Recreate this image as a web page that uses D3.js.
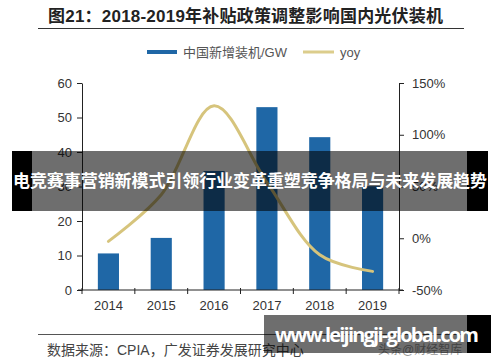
<!DOCTYPE html>
<html>
<head>
<meta charset="utf-8">
<script src="https://cdn.jsdelivr.net/npm/d3@7"></script>
<style>
body { margin: 0; background: #fff; }
svg { display: block; font-family: Arial, "Liberation Sans", "Noto Sans CJK SC", sans-serif; }
.axis path, .axis line { stroke: #222; }
.axis text { fill: #333; font-size: 13px; }
</style>
</head>
<body>
<div id="chart"></div>
<script>
// data
var years = ["2014", "2015", "2016", "2017", "2018", "2019"];
var installed = [10.6, 15.1, 34.5, 53.0, 44.3, 30.1];   // GW
var yoy = [-3, 42, 128, 54, -16, -32];                   // %
var leftTicks = [0, 10, 20, 30, 40, 50, 60];
var rightTicks = [-50, 0, 50, 100, 150];

var Chart = function() {

	var svg, plot, x, y, y2,
		width = 500, height = 362,
		margin = {left: 82, right: 101, top: 83, bottom: 72};

	// svg and scales
	var initialize = function() {
		svg = d3.select("#chart").append("svg")
		.attr("width", width)
		.attr("height", height);

		x = d3.scaleBand().domain(years)
		.range([margin.left, width - margin.right])
		.paddingInner(0.6).paddingOuter(0.3);
		y = d3.scaleLinear().domain([0, 60]).range([height - margin.bottom, margin.top]);
		y2 = d3.scaleLinear().domain([-50, 150]).range([height - margin.bottom, margin.top]);
	}

	// title, rule and legend
	var header = function() {
		svg.append("text")
		.attr("x", 48).attr("y", 22)
		.attr("font-size", "17px").attr("font-weight", "bold").attr("fill", "#222")
		.attr("textLength", 395)
		.text("图21：2018-2019年补贴政策调整影响国内光伏装机");
		svg.append("line")
		.attr("x1", 38).attr("x2", 464).attr("y1", 28.5).attr("y2", 28.5)
		.attr("stroke", "#333").attr("stroke-width", 1);

		var lg = svg.append("g").attr("font-size", "13px").attr("fill", "#555");
		lg.append("rect").attr("x", 147).attr("y", 50).attr("width", 30).attr("height", 4).attr("fill", "#1f67a6");
		lg.append("text").attr("x", 183).attr("y", 57).text("中国新增装机/GW");
		lg.append("rect").attr("x", 303).attr("y", 50.5).attr("width", 31).attr("height", 3).attr("fill", "#dccd8c");
		lg.append("text").attr("x", 340).attr("y", 57).text("yoy");
	}

	var render = function() {
		plot = svg.append("g");

		// bars
		plot.selectAll("rect.bar")
		.data(installed)
		.enter().append("rect")
		.attr("class", "bar")
		.attr("x", function(d, i) { return x(years[i]); })
		.attr("width", x.bandwidth())
		.attr("y", function(d) { return y(d); })
		.attr("height", function(d) { return y(0) - y(d); })
		.attr("fill", "#1f67a6");

		// yoy smooth line
		var line = d3.line()
		.x(function(d, i) { return x(years[i]) + x.bandwidth() / 2; })
		.y(function(d) { return y2(d); })
		.curve(d3.curveCatmullRom.alpha(0.5));
		plot.append("path")
		.datum(yoy)
		.attr("d", line)
		.attr("fill", "none")
		.attr("stroke", "#d6c47c")
		.attr("stroke-width", 3)
		.attr("stroke-linecap", "round");

		// axes
		svg.append("g")
		.attr("class", "axis")
		.attr("transform", "translate(" + margin.left + ",0)")
		.call(d3.axisLeft(y).tickValues(leftTicks).tickSize(5).tickSizeOuter(0).tickPadding(5));

		svg.append("g")
		.attr("class", "axis")
		.attr("transform", "translate(" + (width - margin.right) + ",0)")
		.call(d3.axisRight(y2).tickValues(rightTicks).tickSize(5).tickSizeOuter(0).tickPadding(8)
			.tickFormat(function(d) { return d + "%"; }));

		// x axis: ticks at category boundaries
		var xa = svg.append("g")
		.attr("class", "axis")
		.attr("transform", "translate(0," + y(0) + ")");
		xa.append("line")
		.attr("x1", margin.left - 4).attr("x2", width - margin.right + 4)
		.attr("stroke", "#222");
		var step = x.step();
		xa.selectAll("line.tk")
		.data(d3.range(years.length + 1))
		.enter().append("line")
		.attr("class", "tk")
		.attr("x1", function(i) { return margin.left + i * step; })
		.attr("x2", function(i) { return margin.left + i * step; })
		.attr("y1", -2).attr("y2", 4)
		.attr("stroke", "#222");
		xa.selectAll("text")
		.data(years)
		.enter().append("text")
		.attr("x", function(d) { return x(d) + x.bandwidth() / 2; })
		.attr("y", 20)
		.attr("text-anchor", "middle")
		.text(function(d) { return d; });

		// footer
		svg.append("line")
		.attr("x1", 38).attr("x2", 464).attr("y1", 334.5).attr("y2", 334.5)
		.attr("stroke", "#555").attr("stroke-width", 1);
		svg.append("text")
		.attr("x", 47).attr("y", 355)
		.attr("font-size", "14px").attr("fill", "#444")
		.text("数据来源：CPIA，广发证券发展研究中心");
		svg.append("text")
		.attr("x", 378).attr("y", 354)
		.attr("font-size", "12px").attr("fill", "#999")
		.text("头条@财经智库");
	}

	// the two banners lying over the picture
	var banners = function() {
		var g = svg.append("g");
		g.append("rect").attr("x", 12).attr("y", 151).attr("width", 20).attr("height", 60).attr("fill", "#000");
		g.append("rect").attr("x", 467).attr("y", 151).attr("width", 21).attr("height", 60).attr("fill", "#000");
		g.append("rect").attr("x", 32).attr("y", 151).attr("width", 435).attr("height", 60).attr("fill", "rgba(0,0,0,0.57)");
		g.append("text")
		.attr("x", 250).attr("y", 187)
		.attr("text-anchor", "middle")
		.attr("font-size", "17px").attr("font-weight", "bold").attr("fill", "#fff")
		.attr("font-family", "'Noto Sans CJK SC', sans-serif")
		.attr("textLength", 474)
		.text("电竞赛事营销新模式引领行业变革重塑竞争格局与未来发展趋势");

		g.append("rect").attr("x", 264).attr("y", 315).attr("width", 203).attr("height", 38).attr("fill", "rgba(0,0,0,0.57)");
		g.append("rect").attr("x", 467).attr("y", 315).attr("width", 24).attr("height", 38).attr("fill", "#000");
		g.append("text")
		.attr("x", 275).attr("y", 342)
		.attr("font-size", "20px").attr("font-weight", "bold").attr("fill", "#fff")
		.attr("font-family", "'Open Sans', 'DejaVu Sans', sans-serif")
		.attr("textLength", 204)
		.text("www.leijingji-global.com");
	}

	return {
		initialize: initialize,
		header: header,
		render: render,
		banners: banners
	}
};

var chart = Chart();
chart.initialize();
chart.header();
chart.render();
chart.banners();
</script>
</body>
</html>
